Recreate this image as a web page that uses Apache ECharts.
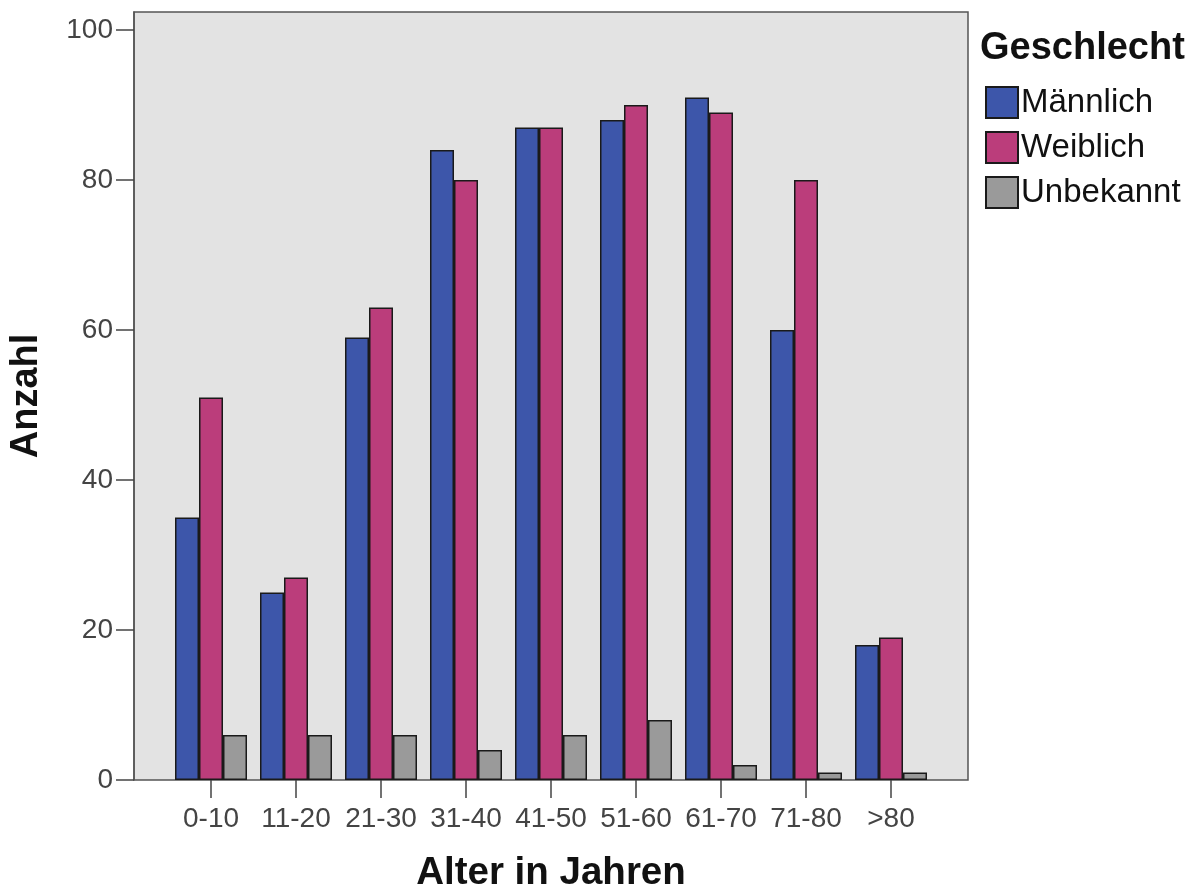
<!DOCTYPE html>
<html>
<head>
<meta charset="utf-8">
<script src="https://cdn.jsdelivr.net/npm/echarts@6/dist/echarts.min.js"></script>
<style>
html,body{margin:0;padding:0;background:#fff;}
#chart{width:1199px;height:891px;}
</style>
</head>
<body>
<div id="chart"></div>
<script>
const categories = ['0-10','11-20','21-30','31-40','41-50','51-60','61-70','71-80','>80'];
const maennlich = [35, 25, 59, 84, 87, 88, 91, 60, 18];
const weiblich  = [51, 27, 63, 80, 87, 90, 89, 80, 19];
const unbekannt = [6, 6, 6, 4, 6, 8, 2, 1, 1];
const yTicks = [0, 20, 40, 60, 80, 100];
const seriesNames = ['Männlich', 'Weiblich', 'Unbekannt'];
const colors = ['#3d56aa', '#bb3d7b', '#9a9a9a'];

const FONT = '"Liberation Sans", Arial, sans-serif';
const chart = echarts.init(document.getElementById('chart'), null, {renderer: 'canvas'});
const YMAX = 102.4;

const option = {
  animation: false,
  backgroundColor: '#ffffff',
  textStyle: {fontFamily: FONT},
  title: {
    text: 'Geschlecht',
    left: 980, top: 30, padding: 0,
    textStyle: {fontFamily: FONT, fontSize: 38, fontWeight: 'bold', color: '#111'}
  },
  legend: {
    orient: 'vertical',
    left: 985, top: 86, padding: 0,
    itemWidth: 32, itemHeight: 31, itemGap: 12,
    icon: 'rect',
    textStyle: {fontFamily: FONT, fontSize: 33, color: '#111', padding: [0,0,0,-2]},
    data: seriesNames
  },
  grid: [
    {left: 134, top: 12, width: 834, height: 768, show: true, backgroundColor: '#e3e3e3', borderColor: '#555', borderWidth: 1.5, containLabel: false, outerBoundsMode: 'none'},
    {left: 168.5, top: 12, width: 765, height: 768, containLabel: false, outerBoundsMode: 'none'}
  ],
  xAxis: [
    {gridIndex: 0, type: 'value', min: 0, max: 1, show: false},
    {
      gridIndex: 1, type: 'category', data: categories, boundaryGap: true,
      name: 'Alter in Jahren', nameLocation: 'middle', nameGap: 74,
      nameTextStyle: {fontFamily: FONT, fontSize: 38.5, fontWeight: 'bold', color: '#111'},
      axisLine: {show: false},
      axisTick: {show: true, alignWithLabel: true, interval: 0, length: 18, lineStyle: {color: '#444', width: 1.5}},
      axisLabel: {fontFamily: FONT, fontSize: 28, color: '#444', margin: 25, interval: 0},
      splitLine: {show: false}
    }
  ],
  yAxis: [
    {
      gridIndex: 0, type: 'value', min: 0, max: YMAX,
      name: 'Anzahl', nameLocation: 'middle', nameGap: 88,
      nameTextStyle: {fontFamily: FONT, fontSize: 38, fontWeight: 'bold', color: '#111'},
      axisLine: {show: true, lineStyle: {color: '#555', width: 1.5}},
      axisTick: {show: true, length: 18, customValues: yTicks, lineStyle: {color: '#444', width: 1.5}},
      axisLabel: {fontFamily: FONT, fontSize: 28, color: '#444', margin: 21, customValues: yTicks},
      splitLine: {show: false}
    },
    {gridIndex: 1, type: 'value', min: 0, max: YMAX, show: false, splitLine: {show: false}}
  ],
  series: [maennlich, weiblich, unbekannt].map((d, i) => ({
    name: seriesNames[i],
    type: 'bar',
    xAxisIndex: 1, yAxisIndex: 1,
    data: d,
    barWidth: 24,
    barGap: '0%',
    itemStyle: {color: colors[i], borderColor: '#1a1a1a', borderWidth: 1.5},
    emphasis: {disabled: true}
  }))
};
chart.setOption(option);
</script>
</body>
</html>
